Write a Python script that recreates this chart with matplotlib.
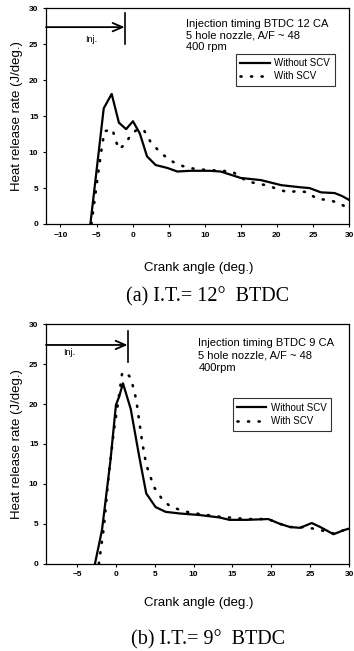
import matplotlib
matplotlib.use("Agg")
import matplotlib.pyplot as plt

plt.rcParams['font.family'] = ['Liberation Sans', 'DejaVu Sans']

# --- data ---
# (a) I.T. = 12 deg BTDC
xa_without = [-5.85, -4.0, -2.9, -1.9, -0.9, 0.05, 1.0, 2.0, 3.2, 4.8, 6.2, 8.0,
              10.6, 12.2, 15.0, 17.8, 20.6, 23.3, 24.5, 26.1, 28.0, 29.0, 30.0]
ya_without = [0, 16.1, 18.1, 14.1, 13.2, 14.3, 12.6, 9.4, 8.2, 7.8, 7.3, 7.4,
              7.4, 7.3, 6.4, 6.1, 5.4, 5.1, 5.0, 4.4, 4.3, 3.9, 3.35]
xa_with = [-5.7, -4.9, -4.35, -3.9, -2.8, -2.4, -1.9, -0.9, -0.3, 0.7, 1.6, 2.5,
           3.7, 5.1, 6.5, 7.8, 9.2, 10.6, 12.2, 13.8, 15.0, 15.9, 17.5, 18.9,
           20.2, 21.6, 22.9, 24.3, 25.5, 27.0, 28.4, 29.7]
ya_with = [0, 6.1, 10.1, 12.9, 13.2, 11.8, 10.4, 11.2, 12.4, 13.2, 13.0, 11.4,
           10.1, 8.9, 8.2, 7.8, 7.6, 7.5, 7.4, 7.3, 6.5, 5.9, 5.6, 5.3,
           4.8, 4.4, 4.6, 4.4, 3.5, 3.35, 3.0, 2.3]

# (b) I.T. = 9 deg BTDC
xb_without = [-2.7, -1.8, -0.7, 0.0, 0.4, 0.9, 1.9, 3.0, 3.9, 5.1, 6.4, 8.2,
              10.8, 13.3, 14.6, 16.8, 19.6, 21.1, 22.4, 23.7, 25.2, 26.3, 28.0,
              29.3, 30.0]
yb_without = [0, 4.2, 13.0, 19.9, 20.9, 22.6, 19.4, 13.4, 8.8, 7.1, 6.5, 6.3,
              6.1, 5.8, 5.5, 5.5, 5.6, 5.0, 4.6, 4.5, 5.1, 4.6, 3.7,
              4.2, 4.4]
xb_with = [-2.2, -1.55, -0.9, -0.26, 0.2, 0.8, 1.25, 1.9, 2.3, 2.6, 3.4, 3.9,
           4.9, 6.0, 7.1, 9.5, 13.3, 16.8, 19.6, 21.1, 22.4, 23.7, 24.8, 26.0,
           28.0, 29.3, 30.0]
yb_with = [0, 4.6, 11.4, 16.7, 19.7, 23.9, 24.0, 23.3, 21.8, 20.6, 15.1, 12.4,
           9.6, 8.0, 7.1, 6.4, 5.9, 5.6, 5.6, 5.0, 4.6, 4.6, 4.5, 4.3,
           3.8, 4.2, 4.4]

panels = [
    dict(rect=[0.130, 0.656, 0.856, 0.331], xlim=(-12, 30),
         xticks=[-10, -5, 0, 5, 10, 15, 20, 25, 30],
         without=(xa_without, ya_without), with_=(xa_with, ya_with),
         inj_end=-1.1, inj_bar=(25.0, 29.4), inj_txt=(-5.7, 25.7),
         note=["Injection timing BTDC 12 CA", "5 hole nozzle, A/F ~ 48", "400 rpm"],
         note_xy=(7.4, [27.9, 26.2, 24.6]),
         leg_anchor=(0.627, 0.79),
         xlabel_y=268, caption="(a) I.T.= 12°  BTDC", caption_y=297),
    dict(rect=[0.130, 0.134, 0.856, 0.368], xlim=(-9, 30),
         xticks=[-5, 0, 5, 10, 15, 20, 25, 30],
         without=(xb_without, yb_without), with_=(xb_with, yb_with),
         inj_end=1.5, inj_bar=(25.3, 29.2), inj_txt=(-6.0, 26.4),
         note=["Injection timing BTDC 9 CA", "5 hole nozzle, A/F ~ 48", "400rpm"],
         note_xy=(10.6, [27.7, 26.1, 24.5]),
         leg_anchor=(0.616, 0.69),
         xlabel_y=603, caption="(b) I.T.= 9°  BTDC", caption_y=640),
]

W, H = 354, 651
fig = plt.figure(figsize=(W / 100, H / 100), dpi=100)

for p in panels:
    ax = fig.add_axes(p["rect"])
    ax.plot(*p["without"], color='black', lw=1.6, label='Without SCV')
    ax.plot(*p["with_"], color='black', lw=1.9, ls=(0, (0.4, 3.6)),
            dash_capstyle='round', label='With SCV')
    ax.set_xlim(*p["xlim"])
    ax.set_ylim(0, 30)
    ax.set_xticks(p["xticks"])
    ax.set_yticks([0, 5, 10, 15, 20, 25, 30])
    ax.tick_params(direction='out', length=2.5, width=0.8, labelsize=6, pad=3)
    for lab in ax.get_xticklabels() + ax.get_yticklabels():
        lab.set_fontweight('bold')
    for s in ax.spines.values():
        s.set_linewidth(0.9)
    ax.set_ylabel('Heat release rate (J/deg.)', fontsize=9.5, labelpad=4)

    # injection arrow
    ax.annotate('', xy=(p["inj_end"], 27.4), xytext=(p["xlim"][0], 27.4),
                arrowprops=dict(arrowstyle='->,head_length=0.7,head_width=0.3',
                                color='black', lw=1.3, shrinkA=0, shrinkB=0))
    ax.plot([p["inj_end"], p["inj_end"]], p["inj_bar"], color='black', lw=1.2)
    ax.text(*p["inj_txt"], 'Inj.', fontsize=6.5, ha='center', va='center')

    nx, nys = p["note_xy"]
    for line, ny in zip(p["note"], nys):
        ax.text(nx, ny, line, fontsize=8, ha='left', va='center')

    leg = ax.legend(loc='upper left', bbox_to_anchor=p["leg_anchor"],
                    fontsize=7, frameon=True, fancybox=False, handlelength=3.0,
                    handletextpad=0.5, borderpad=0.45, labelspacing=0.35,
                    borderaxespad=0)
    leg.get_frame().set_edgecolor('black')
    leg.get_frame().set_linewidth(0.8)

    fig.text(199 / W, 1 - p["xlabel_y"] / H, 'Crank angle (deg.)', fontsize=9.5,
             ha='center', va='center')
    fig.text(208 / W, 1 - p["caption_y"] / H, p["caption"], fontsize=14.5,
             family=['Liberation Serif', 'DejaVu Serif'], ha='center', va='center')

plt.savefig("out.png", dpi=100)
